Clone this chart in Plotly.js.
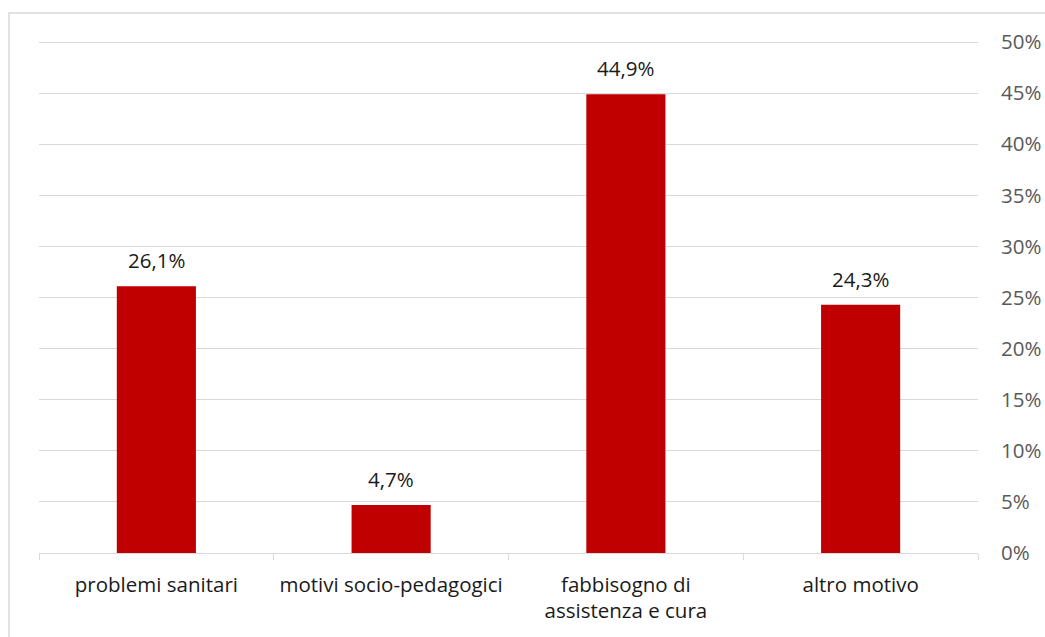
<!DOCTYPE html>
<html>
<head>
<meta charset="utf-8">
<script src="https://cdn.plot.ly/plotly-3.0.1.min.js"></script>
<style>html,body{margin:0;padding:0;background:#fff;}#chart{width:1045px;height:637px;}</style>
</head>
<body>
<div id="chart"></div>
<script>
const categories = ["problemi sanitari", "motivi socio-pedagogici", "fabbisogno di<br>assistenza e cura", "altro motivo"];
const values = [26.1, 4.7, 44.9, 24.3];
const yTickValues = [0, 5, 10, 15, 20, 25, 30, 35, 40, 45, 50];

const labels = values.map(v => v.toFixed(1).replace('.', ',') + '%');
const FONT = '"Open Sans", "Noto Sans", sans-serif';
const FS = 20.5;

const trace = {
  type: 'bar',
  x: categories,
  y: values,
  marker: {color: '#C00000', line: {width: 0}},
  width: 0.337,
  hoverinfo: 'none'
};

const annotations = categories.map((c, i) => ({
  x: c, y: values[i], xref: 'x', yref: 'y',
  text: labels[i], showarrow: false,
  yanchor: 'bottom', yshift: 10,
  font: {family: FONT, size: FS, color: '#1a1a1a'}
}));

const layout = {
  width: 1045,
  height: 637,
  margin: {l: 39, r: 67, t: 40, b: 84, pad: 0},
  paper_bgcolor: '#ffffff',
  plot_bgcolor: '#ffffff',
  showlegend: false,
  font: {family: FONT, size: FS, color: '#1a1a1a'},
  xaxis: {
    type: 'category',
    showline: true,
    linecolor: '#d9d9d9',
    linewidth: 1,
    ticks: 'outside',
    tickson: 'boundaries',
    ticklen: 6,
    tickcolor: '#d9d9d9',
    tickangle: 0,
    ticklabelstandoff: 13,
    tickfont: {family: FONT, size: FS, color: '#1a1a1a'},
    showgrid: false,
    fixedrange: true
  },
  yaxis: {
    side: 'right',
    range: [0, 50.2],
    tickvals: yTickValues,
    ticktext: yTickValues.map(v => v + '%'),
    showgrid: true,
    gridcolor: '#d9d9d9',
    gridwidth: 1,
    zeroline: false,
    showline: false,
    ticks: '',
    ticklabelstandoff: 22,
    tickfont: {family: FONT, size: FS, color: '#595959'},
    fixedrange: true
  },
  annotations: annotations,
  shapes: [{
    type: 'rect', xref: 'paper', yref: 'paper',
    x0: -30/939, x1: 1100/939, y0: -120/513, y1: 1 + 27/513,
    line: {color: '#d9d9d9', width: 1.5}, fillcolor: 'rgba(0,0,0,0)', layer: 'below'
  }]
};

Plotly.newPlot('chart', [trace], layout, {displayModeBar: false, staticPlot: true});
</script>
</body>
</html>
